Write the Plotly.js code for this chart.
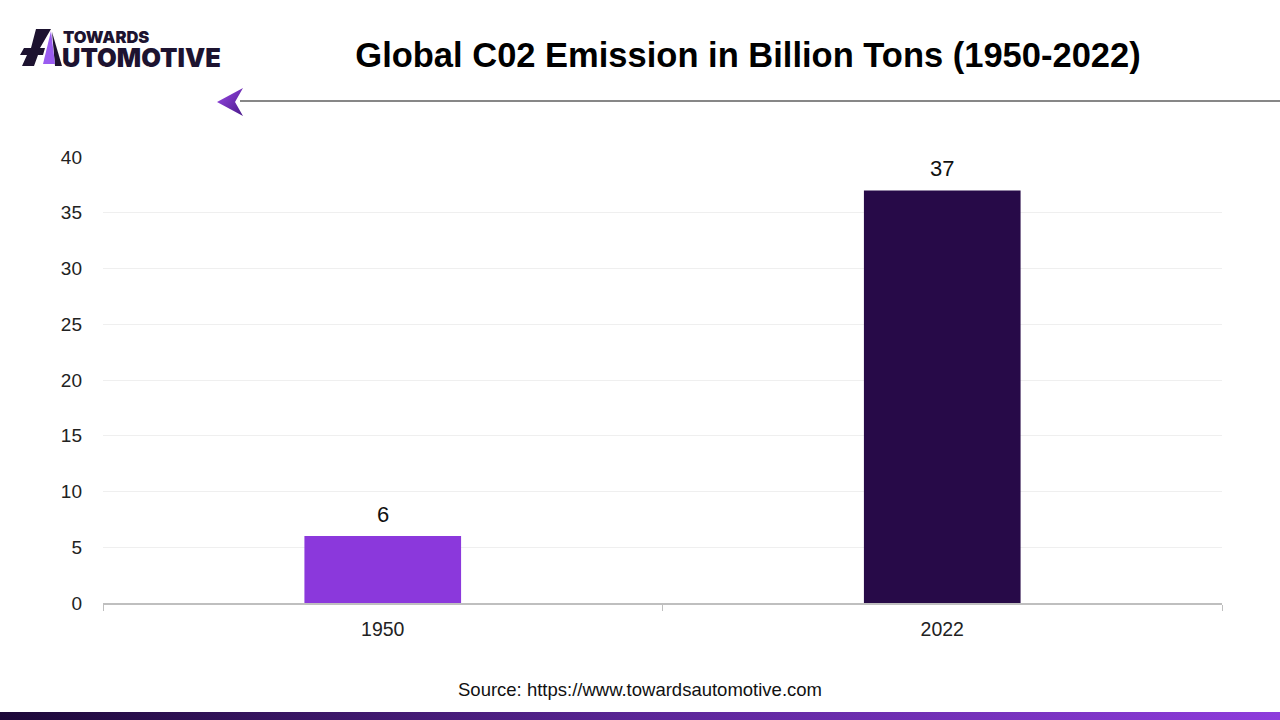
<!DOCTYPE html>
<html>
<head>
<meta charset="utf-8">
<script src="https://cdn.plot.ly/plotly-3.0.1.min.js"></script>
<style>html,body{margin:0;padding:0;background:#fff;}#chart{width:1280px;height:720px;}</style>
</head>
<body>
<div id="chart"></div>
<script>
const years = ["1950", "2022"];
const emissions = [6, 37];
const barColors = ["#8b38dc", "#270a48"];
const yTicks = [0, 5, 10, 15, 20, 25, 30, 35, 40];

const W = 1280, H = 720, L = 103, R = 1222, T = 157, B = 603;
const px = x => (x - L) / (R - L);
const py = y => (B - y) / (B - T);
function path(pts) {
  return 'M' + pts.map(p => px(p[0]) + ',' + py(p[1])).join(' L') + ' Z';
}

const gradSvg = '<svg xmlns="http://www.w3.org/2000/svg" width="1280" height="8"><defs><linearGradient id="g" x1="0" x2="1" y1="0" y2="0"><stop offset="0" stop-color="#1c0838"/><stop offset="0.5" stop-color="#5a2596"/><stop offset="1" stop-color="#8e3cdc"/></linearGradient></defs><rect width="1280" height="8" fill="url(#g)"/></svg>';
const arrowSvg = '<svg xmlns="http://www.w3.org/2000/svg" width="28" height="30"><defs><linearGradient id="a" x1="0" x2="1" y1="0" y2="1"><stop offset="0" stop-color="#9b4ae8"/><stop offset="1" stop-color="#4a1a8a"/></linearGradient></defs><path d="M0,15 L26,1 L18,15 L26,29 Z" fill="url(#a)"/></svg>';

const data = [{
  type: 'bar',
  x: years,
  y: emissions,
  marker: {color: barColors},
  hoverinfo: 'none'
}];

// value labels placed on the category axis by category index
const valueLabels = years.map((yr, i) => ({
  x: i, y: emissions[i], xref: 'x', yref: 'y',
  text: String(emissions[i]), showarrow: false,
  yanchor: 'bottom', yshift: 7,
  font: {family: 'Liberation Sans, Arial, sans-serif', size: 22, color: '#111'}
}));

const layout = {
  width: W, height: H,
  margin: {l: L, r: W - R, t: T, b: H - B, pad: 0},
  paper_bgcolor: '#fff', plot_bgcolor: '#fff',
  showlegend: false,
  bargap: 0.72,
  font: {family: 'Liberation Sans, Arial, sans-serif', color: '#222'},
  title: {
    text: '<b>Global C02 Emission in Billion Tons (1950-2022)</b>',
    font: {family: 'Liberation Sans, Arial, sans-serif', size: 34.5, color: '#000'},
    x: 748 / W, xanchor: 'center', y: 1 - 55 / H, yanchor: 'middle'
  },
  xaxis: {
    type: 'category',
    categoryarray: years, categoryorder: 'array',
    range: [-0.5, years.length - 0.5],
    showgrid: false,
    showline: true, linecolor: '#bfbfbf', linewidth: 2,
    ticks: 'outside', tickson: 'boundaries', ticklen: 6, tickcolor: '#bfbfbf', tickwidth: 1,
    tickfont: {size: 19.5, color: '#222'},
    ticklabelstandoff: 8,
    fixedrange: true
  },
  yaxis: {
    range: [0, 40],
    tickvals: yTicks,
    showgrid: true, gridcolor: '#efefef', gridwidth: 1,
    zeroline: false, showline: false,
    ticks: '',
    tickfont: {size: 19, color: '#222'},
    ticklabelstandoff: 20,
    fixedrange: true
  },
  shapes: [
    {type: 'line', xref: 'paper', yref: 'paper', x0: px(240), x1: px(1280), y0: py(101), y1: py(101), line: {color: '#111', width: 1.2}},
    {type: 'path', xref: 'paper', yref: 'paper',
     path: path([[36,29],[51,29],[40,48],[45,48],[43,55],[38,55],[34,66],[22,66],[27,55],[20,55],[24,48],[31,48]]),
     fillcolor: '#1d1330', line: {width: 0}},
    {type: 'path', xref: 'paper', yref: 'paper', path: path([[52,32],[62,66],[55,66]]), fillcolor: '#1d1330', line: {width: 0}},
    {type: 'path', xref: 'paper', yref: 'paper', path: path([[51,31],[55,64],[43,64]]), fillcolor: '#9a5cf0', line: {width: 0}}
  ],
  images: [
    {source: 'data:image/svg+xml;utf8,' + encodeURIComponent(gradSvg), xref: 'paper', yref: 'paper',
     x: px(0), y: py(712), sizex: px(1280) - px(0), sizey: py(712) - py(720), sizing: 'stretch', xanchor: 'left', yanchor: 'top', layer: 'above'},
    {source: 'data:image/svg+xml;utf8,' + encodeURIComponent(arrowSvg), xref: 'paper', yref: 'paper',
     x: px(217), y: py(87), sizex: px(245) - px(217), sizey: py(87) - py(117), sizing: 'stretch', xanchor: 'left', yanchor: 'top', layer: 'above'}
  ],
  annotations: valueLabels.concat([
    {text: 'TOWARDS', xref: 'paper', yref: 'paper', x: px(61), y: py(36.5), xanchor: 'left', yanchor: 'middle', showarrow: false,
     font: {family: 'Inter, Liberation Sans, sans-serif', size: 16.5, weight: 900, color: '#1d1330'}},
    {text: 'UTOMOTIVE', xref: 'paper', yref: 'paper', x: px(60), y: py(57.5), xanchor: 'left', yanchor: 'middle', showarrow: false,
     font: {family: 'Inter, Liberation Sans, sans-serif', size: 25.5, weight: 900, color: '#1d1330'}},
    {text: 'Source: https://www.towardsautomotive.com', xref: 'paper', yref: 'paper', x: px(640), y: py(689), xanchor: 'center', yanchor: 'middle', showarrow: false,
     font: {family: 'Liberation Sans, Arial, sans-serif', size: 18.5, color: '#111'}}
  ])
};

Plotly.newPlot('chart', data, layout, {staticPlot: true, displayModeBar: false});
</script>
</body>
</html>
